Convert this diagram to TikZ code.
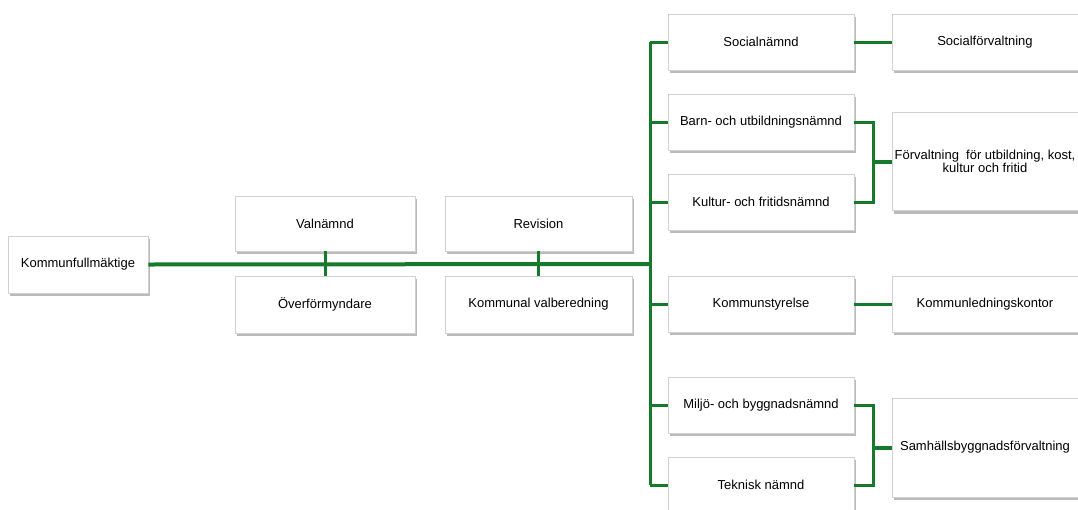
\documentclass[tikz,border=0pt]{standalone}
\usepackage{fontspec}
\setmainfont{Liberation Sans}
\usetikzlibrary{shadows}

\definecolor{orggreen}{RGB}{22,122,44}

\tikzset{
  box/.style={draw=black!18, line width=0.6pt, fill=white,
    minimum width=186pt, minimum height=56pt, inner sep=2pt, align=center,
    font=\fontsize{13}{15}\selectfont,
    drop shadow={shadow xshift=1.5pt, shadow yshift=-3pt, fill=black!45, opacity=0.6}},
  link/.style={draw=orggreen, line width=3pt},
  buslink/.style={draw=orggreen, line width=4pt},
}

\begin{document}
\begin{tikzpicture}[x=1pt,y=-1pt]

\useasboundingbox (0,0) rectangle (1078,509);

% Fullmäktige och nämnder under
\node[box, minimum width=140pt, minimum height=57pt] (kf) at (78,264.5) {Kommunfullmäktige};
\node[box, minimum width=180pt, minimum height=55pt] (val) at (325,223.5) {Valnämnd};
\node[box, minimum width=180pt, minimum height=57pt] (over) at (325,304.5) {Överförmyndare};
\node[box, minimum width=187pt, minimum height=55pt] (rev) at (538.5,223.5) {Revision};
\node[box, minimum width=187pt, minimum height=57pt] (valb) at (538.5,304.5) {Kommunal valberedning};

% Nämnder
\node[box] (soc) at (761,42) {Socialnämnd};
\node[box] (barn) at (761,122) {Barn- och utbildningsnämnd};
\node[box] (kult) at (761,202) {Kultur- och fritidsnämnd};
\node[box] (ks) at (761,304) {Kommunstyrelse};
\node[box] (milj) at (761,405) {Miljö- och byggnadsnämnd};
\node[box] (tek) at (761,485) {Teknisk nämnd};

% Förvaltningar
\node[box] (socf) at (985,42) {Socialförvaltning};
\node[box, minimum height=98pt] (ukf) at (985,161.5) {Förvaltning\ \ för utbildning, kost,\\[-2pt]kultur och fritid};
\node[box] (klk) at (985,304) {Kommunledningskontor};
\node[box, minimum height=99pt] (sbf) at (985,447.5) {Samhällsbyggnadsförvaltning};

\coordinate (trunk) at (650,264);
\coordinate (joinA) at (873,0);

% Huvudlinje
\draw[buslink] (kf.east) -- (trunk);
\draw[link] (val.south) -- (over.north);
\draw[link] (rev.south) -- (valb.north);

% Stam till nämnder
\draw[link] (soc.west -| trunk) -- (tek.west -| trunk);
\foreach \n in {soc,barn,kult,ks,milj,tek}
  \draw[link] (\n.west -| trunk) -- (\n.west);

% Nämnder till förvaltningar
\draw[link] (soc.east) -- (socf.west);
\draw[link] (ks.east) -- (klk.west);
\draw[link] (barn.east) -| (joinA |- kult.east) -- (kult.east);
\draw[buslink] (joinA |- ukf.west) -- (ukf.west);
\draw[link] (milj.east) -| (joinA |- tek.east) -- (tek.east);
\draw[buslink] (joinA |- sbf.west) -- (sbf.west);

\end{tikzpicture}
\end{document}
